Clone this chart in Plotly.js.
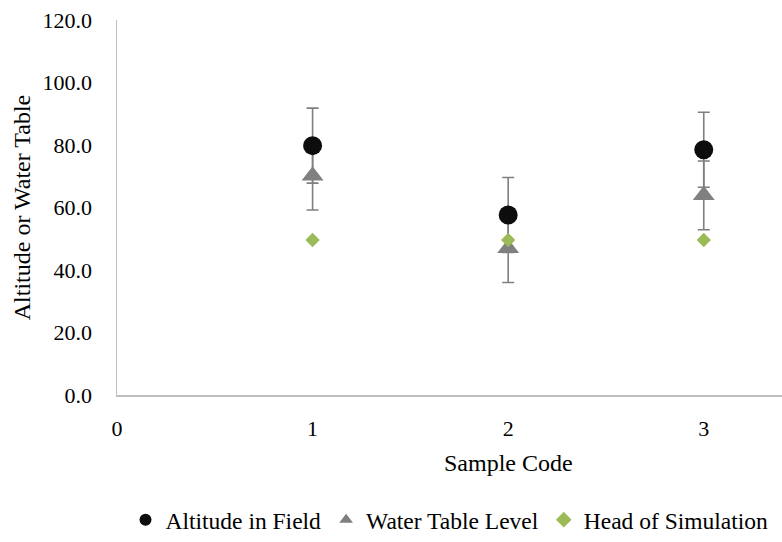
<!DOCTYPE html>
<html>
<head>
<meta charset="utf-8">
<script src="https://cdn.plot.ly/plotly-3.0.1.min.js"></script>
<style>
html,body{margin:0;padding:0;overflow:hidden;background:#fff;}
#chart{width:782px;height:542px;}
#chart text{font-family:"Liberation Serif","Times New Roman",serif !important;}
</style>
</head>
<body>
<div id="chart"></div>
<script>
var sampleCodes = [1, 2, 3];
var altitudeInField = [79.8, 57.6, 78.5];
var waterTableLevel = [70.2, 47.0, 63.9];
var headOfSimulation = [49.6, 49.6, 49.6];
var altitudeError = [12, 12, 12];
var waterTableError = [11, 11, 11];
var xTickValues = [0, 1, 2, 3];
var yTickValues = [0, 20, 40, 60, 80, 100, 120];
var seriesNames = ["Altitude in Field", "Water Table Level", "Head of Simulation"];

var FONT = 'Liberation Serif';
var errStyle = {type: 'data', visible: true, color: '#7f7f7f', thickness: 1.6, width: 6};

var traces = [
  {x: sampleCodes, y: altitudeInField, mode: 'markers', showlegend: false, hoverinfo: 'skip',
   marker: {size: 1, color: 'rgba(0,0,0,0)'},
   error_y: Object.assign({array: altitudeError}, errStyle)},
  {x: sampleCodes, y: waterTableLevel, mode: 'markers', showlegend: false, hoverinfo: 'skip',
   marker: {size: 1, color: 'rgba(0,0,0,0)'},
   error_y: Object.assign({array: waterTableError}, errStyle)},
  {x: sampleCodes, y: altitudeInField, mode: 'markers', name: seriesNames[0],
   marker: {symbol: 'circle', size: 19, color: '#0d0d0d'}},
  {x: sampleCodes, y: waterTableLevel, mode: 'markers', name: seriesNames[1],
   marker: {symbol: 'triangle-up', size: 19, color: '#808080'}},
  {x: sampleCodes, y: headOfSimulation, mode: 'markers', name: seriesNames[2],
   marker: {symbol: 'diamond', size: 11, color: '#9bbb59'}}
];

var layout = {
  width: 782, height: 542,
  margin: {l: 117, r: 0, t: 20, b: 144},
  paper_bgcolor: '#fff', plot_bgcolor: '#fff',
  font: {family: FONT, size: 22, color: '#000'},
  showlegend: true,
  xaxis: {
    range: [0, 3.4], tickvals: xTickValues, ticktext: xTickValues.map(String),
    showgrid: false, zeroline: false, showline: true, linecolor: '#bfbfbf', linewidth: 1.5,
    ticks: '', ticklabelstandoff: 13, tickfont: {family: FONT, size: 22, color: '#000'},
    fixedrange: true
  },
  yaxis: {
    range: [0, 120], tickvals: yTickValues, tickformat: '.1f',
    showgrid: false, zeroline: false, showline: true, linecolor: '#bfbfbf', linewidth: 1.5,
    ticks: '', ticklabelstandoff: 19, tickfont: {family: FONT, size: 22, color: '#000'},
    title: {text: 'Altitude or Water Table', font: {family: FONT, size: 24, color: '#000'}, standoff: 5},
    fixedrange: true
  },
  annotations: [{
    text: 'Sample Code', xref: 'x', yref: 'paper', x: 2, y: 0, yshift: -68,
    xanchor: 'center', yanchor: 'middle', showarrow: false,
    font: {family: FONT, size: 24, color: '#000'}
  }],
  legend: {
    orientation: 'h', x: 0.5, xanchor: 'center', y: -0.333, yanchor: 'middle',
    font: {family: FONT, size: 23.5, color: '#000'}, itemsizing: 'constant', itemwidth: 30,
    bgcolor: 'rgba(0,0,0,0)'
  }
};

Plotly.newPlot('chart', traces, layout, {displayModeBar: false, staticPlot: true});
</script>
</body>
</html>
